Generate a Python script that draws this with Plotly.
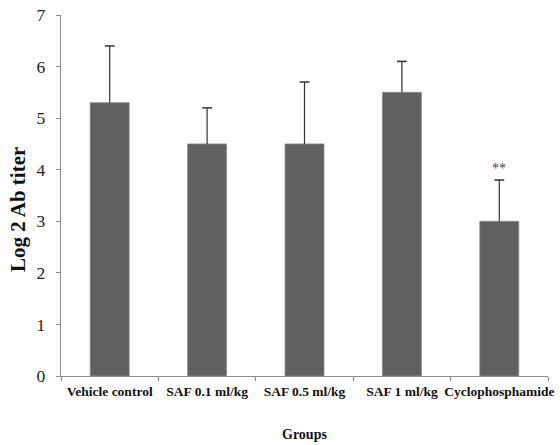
import plotly.graph_objects as go

groups = ["Vehicle control", "SAF 0.1 ml/kg", "SAF 0.5 ml/kg", "SAF 1 ml/kg", "Cyclophosphamide"]
means = [5.3, 4.5, 4.5, 5.5, 3.0]
errors = [1.1, 0.7, 1.2, 0.6, 0.8]
signif = ["", "", "", "", "**"]

fig = go.Figure()
fig.add_trace(go.Bar(
    x=groups, y=means, width=0.4,
    marker=dict(color="#606060", line=dict(width=0.8, color="#8a8a8a")),
))

# upward-only error bars with a cap at the top
ex, ey = [], []
for g, m, e in zip(groups, means, errors):
    ex += [g, g, None]
    ey += [m, m + e, None]
fig.add_trace(go.Scatter(x=ex, y=ey, mode="lines", line=dict(color="#333333", width=1.2),
                         hoverinfo="skip"))
fig.add_trace(go.Scatter(x=groups, y=[m + e for m, e in zip(means, errors)], mode="markers",
                         marker=dict(symbol="line-ew", size=7, line=dict(color="#333333", width=1.5)),
                         hoverinfo="skip"))

for g, m, e, s in zip(groups, means, errors, signif):
    if s:
        fig.add_annotation(x=g, y=m + e, text=s, showarrow=False, yshift=12,
                           font=dict(family="Liberation Serif", size=14, color="#444"))

fig.add_annotation(xref="paper", yref="paper", x=-0.088, y=0.46, text="<b>Log 2 Ab titer</b>",
                   textangle=-90, showarrow=False, xanchor="center", yanchor="middle",
                   font=dict(family="Liberation Serif", size=21, color="#111"))
fig.add_annotation(xref="paper", yref="paper", x=0.5, y=-0.162, text="<b>Groups</b>",
                   showarrow=False, xanchor="center", yanchor="middle",
                   font=dict(family="Liberation Serif", size=14, color="#111"))

fig.update_layout(
    width=560, height=445,
    margin=dict(l=61, r=12, t=15, b=69),
    paper_bgcolor="white", plot_bgcolor="white",
    showlegend=False,
    xaxis=dict(showline=True, linecolor="#8c8c8c", linewidth=1.3,
               ticks="outside", tickcolor="#8c8c8c", ticklen=4, tickson="boundaries",
               tickangle=0, automargin=False, ticklabelstandoff=3,
               tickfont=dict(family="Liberation Serif", size=13.5, color="#111", weight="bold"),
               showgrid=False, zeroline=False, range=[-0.5, 4.5]),
    yaxis=dict(range=[0, 7], dtick=1, showline=True, linecolor="#8c8c8c", linewidth=1.3,
               ticks="outside", tickcolor="#8c8c8c", ticklen=4, automargin=False,
               ticklabelstandoff=7,
               tickfont=dict(family="Liberation Serif", size=17.5, color="#222"),
               showgrid=False, zeroline=False),
    font=dict(family="Liberation Serif"),
)
fig.write_html("out.html", config={"displayModeBar": False},
               post_script="document.body.style.margin='0';document.body.style.overflow='hidden';")
